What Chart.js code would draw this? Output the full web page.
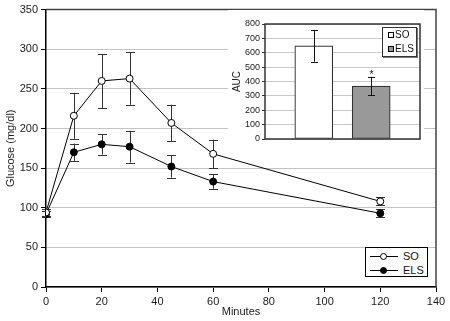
<!DOCTYPE html>
<html><head><meta charset="utf-8">
<script src="https://cdn.jsdelivr.net/npm/chart.js@4/dist/chart.umd.min.js"></script>
<style>
html,body{margin:0;padding:0;background:#fff;}
#wrap{position:relative;width:450px;height:321px;overflow:hidden;font-family:"Liberation Sans",Arial,sans-serif;color:#111;}
#main{position:absolute;left:0;top:0;}
#inset{position:absolute;left:228px;top:10px;background:#fff;}
.leg{position:absolute;background:#fff;box-sizing:border-box;}
#mainLeg{left:365px;top:247px;width:63px;height:30px;border:1px solid #000;font-size:11px;}
.row{position:absolute;left:0;height:14px;line-height:14px;}
.ln{position:absolute;left:4px;top:7px;width:28px;height:0;border-top:1px solid #000;}
.mk{position:absolute;left:14px;top:4px;width:5px;height:5px;border:1px solid #000;border-radius:50%;}
.tx{position:absolute;left:37px;top:0;}
#insLeg{left:382px;top:27px;width:35px;height:30px;border:1px solid #333;box-shadow:1px 1px 0 #777;font-size:10px;}
.sq{position:absolute;left:5px;top:4px;width:4px;height:4px;border:1px solid #000;}
.tx2{position:absolute;left:12px;top:0;}
</style></head>
<body>
<div id="wrap">
<canvas id="main" width="450" height="321"></canvas>
<canvas id="inset" width="196" height="142"></canvas>
<div class="leg" id="mainLeg">
  <div class="row" style="top:1px;width:61px"><div class="ln"></div><div class="mk" style="background:#fff"></div><div class="tx">SO</div></div>
  <div class="row" style="top:15px;width:61px"><div class="ln"></div><div class="mk" style="background:#000"></div><div class="tx">ELS</div></div>
</div>
<div class="leg" id="insLeg">
  <div class="row" style="top:0px;width:33px;height:13px;line-height:13px"><div class="sq" style="background:#fff"></div><div class="tx2">SO</div></div>
  <div class="row" style="top:14px;width:33px;height:13px;line-height:13px"><div class="sq" style="background:#999"></div><div class="tx2">ELS</div></div>
</div>
</div>
<script>
// ---- data ----
const minutes = [0, 10, 20, 30, 45, 60, 120];
const soGlucose = [94, 216, 260, 263, 207, 168, 108];
const soErr = [4, 29, 34, 33, 23, 18, 5];
const elsGlucose = [92, 170, 180, 177, 152, 133, 93];
const elsErr = [4, 11, 13, 20, 14, 9, 5];
const aucGroups = ['SO', 'ELS'];
const aucValues = [648, 368];
const aucErr = [110, 65];
const aucSignificant = [false, true];

const FONT = '"Liberation Sans", Arial, sans-serif';

const mainErr = [soErr, elsErr];
const mainVals = [soGlucose, elsGlucose];

const errorBarsMain = {
  id: 'errorBarsMain',
  beforeDatasetsDraw(chart) {
    const ctx = chart.ctx, xs = chart.scales.x, ys = chart.scales.y;
    ctx.save();
    ctx.strokeStyle = '#333';
    ctx.lineWidth = 1;
    for (let d = 0; d < 2; d++) {
      for (let i = 0; i < minutes.length; i++) {
        const x = Math.round(xs.getPixelForValue(minutes[i])) + 0.5;
        const y1 = ys.getPixelForValue(mainVals[d][i] + mainErr[d][i]);
        const y2 = ys.getPixelForValue(mainVals[d][i] - mainErr[d][i]);
        ctx.beginPath();
        ctx.moveTo(x, y1); ctx.lineTo(x, y2);
        ctx.moveTo(x - 4.5, Math.round(y1) + 0.5); ctx.lineTo(x + 4.5, Math.round(y1) + 0.5);
        ctx.moveTo(x - 4.5, Math.round(y2) + 0.5); ctx.lineTo(x + 4.5, Math.round(y2) + 0.5);
        ctx.stroke();
      }
    }
    ctx.restore();
  },
  afterDraw(chart) {
    const ctx = chart.ctx, a = chart.chartArea;
    ctx.save();
    ctx.strokeStyle = '#444';
    ctx.lineWidth = 1.5;
    ctx.beginPath();
    ctx.moveTo(a.left, a.top); ctx.lineTo(a.right, a.top); ctx.lineTo(a.right, a.bottom);
    ctx.stroke();
    ctx.restore();
  }
};

new Chart(document.getElementById('main'), {
  type: 'line',
  data: {
    datasets: [
      { label: 'SO', data: minutes.map((m, i) => ({x: m, y: soGlucose[i]})),
        borderColor: '#000', borderWidth: 1, backgroundColor: '#fff',
        pointBackgroundColor: '#fff', pointBorderColor: '#000', pointBorderWidth: 1, pointRadius: 3.5, tension: 0 },
      { label: 'ELS', data: minutes.map((m, i) => ({x: m, y: elsGlucose[i]})),
        borderColor: '#000', borderWidth: 1, backgroundColor: '#000',
        pointBackgroundColor: '#000', pointBorderColor: '#000', pointBorderWidth: 1, pointRadius: 3.5, tension: 0 }
    ]
  },
  options: {
    responsive: false, animation: false, devicePixelRatio: 1,
    layout: { padding: { left: 0, top: 7, right: 14, bottom: 0 } },
    plugins: { legend: { display: false }, tooltip: { enabled: false } },
    scales: {
      x: {
        type: 'linear', min: 0, max: 140,
        ticks: { stepSize: 20, color: '#222', font: { family: FONT, size: 11 }, padding: 3, maxRotation: 0, autoSkip: false },
        grid: { drawOnChartArea: false, drawTicks: true, tickLength: 5, tickColor: '#000', tickWidth: 1 },
        border: { color: '#000', width: 1.5 },
        title: { display: true, text: 'Minutes', color: '#222', font: { family: FONT, size: 11 }, padding: { top: 0, bottom: 2 } },
        afterFit(s) { s.height = 34; }
      },
      y: {
        min: 0, max: 350,
        ticks: { stepSize: 50, color: '#222', font: { family: FONT, size: 11 }, padding: 3, autoSkip: false },
        grid: { color: '#c4c4c4', lineWidth: 1, drawTicks: true, tickLength: 5, tickColor: '#000', tickWidth: 1 },
        border: { color: '#000', width: 1.5 },
        title: { display: true, text: 'Glucose (mg/dl)', color: '#222', font: { family: FONT, size: 11 }, padding: { top: 4, bottom: 0 } },
        afterFit(s) { s.width = 46; }
      }
    }
  },
  plugins: [errorBarsMain]
});

const insetPlugin = {
  id: 'insetPlugin',
  afterDatasetsDraw(chart) {
    const ctx = chart.ctx, xs = chart.scales.x, ys = chart.scales.y;
    ctx.save();
    ctx.strokeStyle = '#111';
    ctx.lineWidth = 1;
    for (let i = 0; i < aucValues.length; i++) {
      const x = Math.round(xs.getPixelForValue(i + 1)) + 0.5;
      const y1 = ys.getPixelForValue(aucValues[i] + aucErr[i]);
      const y2 = ys.getPixelForValue(aucValues[i] - aucErr[i]);
      ctx.beginPath();
      ctx.moveTo(x, y1); ctx.lineTo(x, y2);
      ctx.moveTo(x - 3.5, Math.round(y1) + 0.5); ctx.lineTo(x + 3.5, Math.round(y1) + 0.5);
      ctx.moveTo(x - 3.5, Math.round(y2) + 0.5); ctx.lineTo(x + 3.5, Math.round(y2) + 0.5);
      ctx.stroke();
      if (aucSignificant[i]) {
        ctx.fillStyle = '#111';
        ctx.font = '10px ' + FONT;
        ctx.textAlign = 'center';
        ctx.textBaseline = 'alphabetic';
        ctx.fillText('*', x, y1 + 1);
      }
    }
    const a = chart.chartArea;
    ctx.strokeStyle = '#333';
    ctx.lineWidth = 1.5;
    ctx.strokeRect(a.left, a.top, a.right - a.left, a.bottom - a.top);
    ctx.restore();
  }
};

new Chart(document.getElementById('inset'), {
  type: 'bar',
  data: {
    datasets: [{
      label: 'AUC',
      data: aucGroups.map((g, i) => ({x: i + 1, y: aucValues[i]})),
      backgroundColor: ['#ffffff', '#999999'],
      borderColor: '#333', borderWidth: 1.2, borderSkipped: false,
      barThickness: 38
    }]
  },
  options: {
    responsive: false, animation: false, devicePixelRatio: 1,
    layout: { padding: { left: 0, top: 14, right: 4, bottom: 0 } },
    plugins: { legend: { display: false }, tooltip: { enabled: false } },
    scales: {
      x: {
        type: 'linear', min: 0.15, max: 2.85, offset: false,
        ticks: { display: false },
        grid: { display: false },
        border: { display: false },
        afterFit(s) { s.height = 13; }
      },
      y: {
        min: 0, max: 800,
        ticks: { stepSize: 100, color: '#222', font: { family: FONT, size: 9 }, padding: 2, autoSkip: false },
        grid: { color: '#c8c8c8', lineWidth: 1, drawTicks: true, tickLength: 3, tickColor: '#333' },
        border: { display: false },
        title: { display: true, text: 'AUC', color: '#222', font: { family: FONT, size: 10 }, padding: { top: 3, bottom: 0 } },
        afterFit(s) { s.width = 37; }
      }
    }
  },
  plugins: [insetPlugin]
});
</script>
</body></html>
